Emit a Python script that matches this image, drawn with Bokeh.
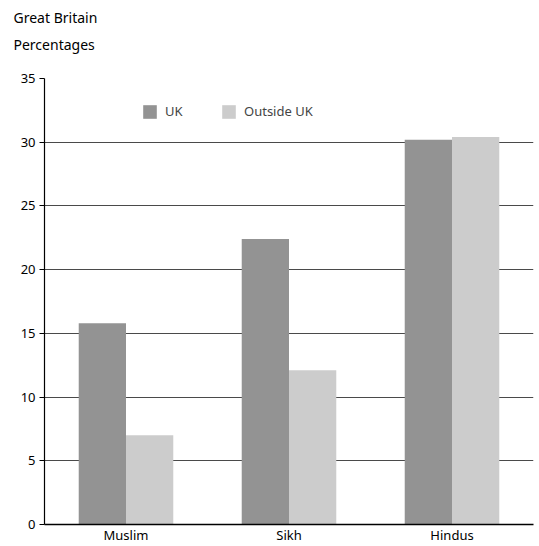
from bokeh.plotting import figure
from bokeh.models import FactorRange, Range1d, Legend, LegendItem, Title, FixedTicker
from bokeh.transform import dodge
from bokeh.embed import file_html
from bokeh.resources import INLINE
from bokeh.models import ColumnDataSource

categories = ["Muslim", "Sikh", "Hindus"]
uk = [15.8, 22.4, 30.2]
outside_uk = [7.0, 12.1, 30.4]
y_ticks = [0, 5, 10, 15, 20, 25, 30, 35]
series_names = ["UK", "Outside UK"]
colors = ["#939393", "#cccccc"]
title_lines = ["Great Britain", "Percentages"]

FONT = "Noto Sans"

src = ColumnDataSource(dict(cat=categories, uk=uk, out=outside_uk))

p = figure(x_range=FactorRange(*categories, range_padding=0), y_range=Range1d(0, 35),
           width=539, height=546, output_backend="svg", toolbar_location=None,
           min_border_left=44, min_border_right=6, min_border_top=78, min_border_bottom=21)
p.x_range.factor_padding = 0

r1 = p.vbar(x=dodge("cat", -0.145, range=p.x_range), top="uk", width=0.29, source=src,
            fill_color=colors[0], line_color=None)
r2 = p.vbar(x=dodge("cat", 0.145, range=p.x_range), top="out", width=0.29, source=src,
            fill_color=colors[1], line_color=None)

p.outline_line_color = None
p.xgrid.grid_line_color = None
p.ygrid.grid_line_color = "#4a4a4a"
p.ygrid.grid_line_width = 1.2
p.yaxis.ticker = FixedTicker(ticks=y_ticks)
p.yaxis.minor_tick_line_color = None
p.yaxis.major_tick_out = 5
p.yaxis.major_tick_in = 0
p.yaxis.axis_line_color = "black"
p.yaxis.axis_line_width = 1.2
p.yaxis.major_tick_line_color = "black"
p.yaxis.major_label_text_font = FONT
p.yaxis.major_label_text_font_size = "13px"
p.yaxis.major_label_text_color = "black"
p.yaxis.major_label_standoff = 4
p.xaxis.major_tick_line_color = None
p.xaxis.minor_tick_line_color = None
p.xaxis.major_tick_out = 0
p.xaxis.major_tick_in = 0
p.xaxis.axis_line_color = "black"
p.xaxis.axis_line_width = 1.5
p.xaxis.major_label_text_font = FONT
p.xaxis.major_label_text_font_size = "13px"
p.xaxis.major_label_text_color = "black"
p.xaxis.major_label_standoff = 1

legend = Legend(items=[LegendItem(label=series_names[0], renderers=[r1]),
                       LegendItem(label=series_names[1], renderers=[r2])],
                orientation="horizontal", location=(97, 404),
                glyph_width=17, glyph_height=17, label_standoff=7, spacing=35,
                padding=0, margin=0, border_line_color=None, background_fill_alpha=0,
                label_text_font=FONT, label_text_font_size="13px", label_height=17)
p.add_layout(legend, "center")

# spacer between the frame and the two heading lines
p.add_layout(Title(text=" ", standoff=4, text_font=FONT, text_font_size="14px"), "above")
p.add_layout(Title(text=title_lines[1], align="left", offset=-31, standoff=0,
                   text_font=FONT, text_font_size="14px", text_font_style="normal",
                   text_color="black"), "above")
p.add_layout(Title(text=title_lines[0], align="left", offset=-31, standoff=11,
                   text_font=FONT, text_font_size="14px", text_font_style="normal",
                   text_color="black"), "above")

open("out.html", "w").write(file_html(p, INLINE))
